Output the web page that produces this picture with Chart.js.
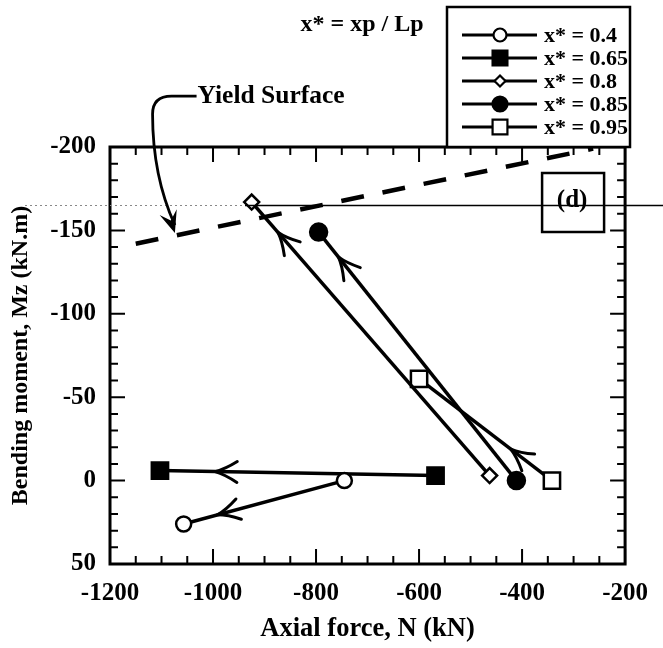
<!DOCTYPE html>
<html>
<head>
<meta charset="utf-8">
<script src="https://cdn.jsdelivr.net/npm/chart.js@4.4.1/dist/chart.umd.min.js"></script>
<style>
html,body{margin:0;padding:0;background:#fff;}
canvas{display:block;}
</style>
</head>
<body>
<canvas id="c" width="663" height="648"></canvas>
<script>
// ---- data ----
const seriesLabels = ['x* = 0.4', 'x* = 0.65', 'x* = 0.8', 'x* = 0.85', 'x* = 0.95'];
const axial04  = [-745, -1057];  const moment04  = [0, 26];
const axial065 = [-568, -1103];  const moment065 = [-3, -6];
const axial08  = [-463, -925];   const moment08  = [-3, -167];
const axial085 = [-411, -795];   const moment085 = [0, -149];
const axial095 = [-342, -600];   const moment095 = [0, -61];
const yieldAxial  = [-1150, -262];
const yieldMoment = [-142, -199];
const arrowFraction = [0.79, 0.80, 0.89, 0.90, 0.31];
const xTickLabels = [-1200, -1000, -800, -600, -400, -200];
const yTickLabels = [-200, -150, -100, -50, 0, 50];
// yield-surface annotation anchors (data coordinates)
const yieldNoteText = 'Yield Surface';
const yieldNoteText0 = [-1030, -230.5];
const yieldNoteTip = [-1074, -148.4];

const FONT = "'Liberation Serif', 'Times New Roman', serif";
const pts = (xs, ys) => xs.map((x, i) => ({x: x, y: ys[i]}));

const markerStyles = [
  {style: 'circle',  r: 7.5,  lr: 6.5,  fill: '#fff'},
  {style: 'rect',    r: 11.5, lr: 10.5, fill: '#000'},
  {style: 'rectRot', r: 7.5,  lr: 5.5,  fill: '#fff'},
  {style: 'circle',  r: 8.5,  lr: 7.5,  fill: '#000'},
  {style: 'rect',    r: 11.5, lr: 10.5, fill: '#fff'}
];

const seriesData = [
  pts(axial04, moment04), pts(axial065, moment065), pts(axial08, moment08),
  pts(axial085, moment085), pts(axial095, moment095)
];

const datasets = seriesData.map((d, i) => ({
  label: seriesLabels[i],
  data: d,
  showLine: true,
  borderColor: '#000',
  borderWidth: 3.5,
  pointStyle: markerStyles[i].style,
  pointRadius: markerStyles[i].r,
  pointBackgroundColor: markerStyles[i].fill,
  pointBorderColor: '#000',
  pointBorderWidth: 2.5,
  order: 1
}));
datasets.push({
  label: 'Yield Surface',
  data: pts(yieldAxial, yieldMoment),
  showLine: true,
  borderColor: '#000',
  borderWidth: 4.5,
  borderDash: [23, 19],
  borderCapStyle: 'butt',
  pointRadius: 0,
  order: 2
});

function arrowChevron(ctx, tx, ty, ux, uy, len, half) {
  const bx = tx - ux * len, by = ty - uy * len;
  ctx.beginPath();
  ctx.moveTo(bx - uy * half, by + ux * half);
  ctx.quadraticCurveTo(tx - ux * len * 0.45 - uy * half * 0.25, ty - uy * len * 0.45 + ux * half * 0.25, tx, ty);
  ctx.quadraticCurveTo(tx - ux * len * 0.45 + uy * half * 0.25, ty - uy * len * 0.45 - ux * half * 0.25, bx + uy * half, by - ux * half);
  ctx.stroke();
}

const deco = {
  id: 'deco',
  afterDatasetsDraw(chart) {
    const ctx = chart.ctx, xs = chart.scales.x, ys = chart.scales.y;
    ctx.save();
    ctx.strokeStyle = '#000';
    ctx.lineWidth = 3;
    ctx.lineCap = 'round';
    seriesData.forEach((d, i) => {
      const x0 = xs.getPixelForValue(d[0].x), y0 = ys.getPixelForValue(d[0].y);
      const x1 = xs.getPixelForValue(d[1].x), y1 = ys.getPixelForValue(d[1].y);
      const f = arrowFraction[i];
      const tx = x0 + (x1 - x0) * f, ty = y0 + (y1 - y0) * f;
      const L = Math.hypot(x1 - x0, y1 - y0);
      arrowChevron(ctx, tx, ty, (x1 - x0) / L, (y1 - y0) / L, 22, 10.5);
    });
    ctx.restore();
  },
  afterDraw(chart) {
    const ctx = chart.ctx, a = chart.chartArea, xs = chart.scales.x, ys = chart.scales.y;
    ctx.save();
    ctx.strokeStyle = '#000';
    ctx.fillStyle = '#000';
    // frame
    ctx.lineWidth = 3;
    ctx.strokeRect(a.left, a.top, a.right - a.left, a.bottom - a.top);
    // inward ticks
    ctx.lineWidth = 2;
    ctx.beginPath();
    for (let v = -1200; v <= -200; v += 50) {
      const px = xs.getPixelForValue(v);
      const L = (v % 200 === 0) ? 15 : 8;
      ctx.moveTo(px, a.bottom); ctx.lineTo(px, a.bottom - L);
      ctx.moveTo(px, a.top); ctx.lineTo(px, a.top + L);
    }
    for (let v = -200; v <= 50; v += 10) {
      const py = ys.getPixelForValue(v);
      const L = (v % 50 === 0) ? 15 : 8;
      ctx.moveTo(a.left, py); ctx.lineTo(a.left + L, py);
      ctx.moveTo(a.right, py); ctx.lineTo(a.right - L, py);
    }
    ctx.stroke();

    // thin horizontal scan line
    ctx.lineWidth = 1.3;
    ctx.beginPath();
    ctx.moveTo(245, a.top + 58.5); ctx.lineTo(663, a.top + 58.5);
    ctx.stroke();
    ctx.strokeStyle = '#888';
    ctx.lineWidth = 1;
    ctx.setLineDash([2, 3]);
    ctx.beginPath();
    ctx.moveTo(25, a.top + 58.5); ctx.lineTo(245, a.top + 58.5);
    ctx.stroke();
    ctx.setLineDash([]);
    ctx.strokeStyle = '#000';

    // (d) box
    ctx.fillStyle = '#fff';
    ctx.fillRect(a.right - 83, a.top + 26, 62, 59);
    ctx.beginPath();
    ctx.moveTo(a.right - 83, a.top + 58.5); ctx.lineTo(a.right - 21, a.top + 58.5);
    ctx.lineWidth = 1.3; ctx.stroke();
    ctx.lineWidth = 2.5;
    ctx.strokeRect(a.right - 83, a.top + 26, 62, 59);
    ctx.fillStyle = '#000';
    ctx.font = 'bold 25px ' + FONT;
    ctx.textAlign = 'center';
    ctx.textBaseline = 'middle';
    ctx.fillText('(d)', a.right - 53, a.top + 54);

    // legend box
    const lx = 447, ly = 7, lw = 183, lh = a.top - 7;
    ctx.fillStyle = '#fff';
    ctx.fillRect(lx, ly, lw, lh);
    ctx.lineWidth = 2.5;
    ctx.strokeRect(lx, ly, lw, lh);
    ctx.font = 'bold 22px ' + FONT;
    ctx.textAlign = 'left';
    seriesLabels.forEach((lab, i) => {
      const ry = 35 + i * 23;
      ctx.strokeStyle = '#000';
      ctx.lineWidth = 3;
      ctx.beginPath(); ctx.moveTo(462, ry); ctx.lineTo(537, ry); ctx.stroke();
      const m = markerStyles[i];
      ctx.fillStyle = m.fill;
      ctx.lineWidth = 2.2;
      Chart.helpers.drawPoint(ctx, {pointStyle: m.style, radius: m.lr, borderWidth: 2.2, rotation: 0}, 500, ry);
      ctx.fillStyle = '#000';
      ctx.fillText(lab, 544, ry + 1);
    });

    // x* definition
    ctx.font = 'bold 24px ' + FONT;
    ctx.textAlign = 'center';
    ctx.fillText('x* = xp / Lp', 362, 25);

    // yield surface note
    const p = (d) => [xs.getPixelForValue(d[0]), ys.getPixelForValue(d[1])];
    const t0 = p(yieldNoteText0), tip = p(yieldNoteTip);
    ctx.font = 'bold 25.5px ' + FONT;
    ctx.textAlign = 'left';
    ctx.fillText(yieldNoteText, t0[0], t0[1]);
    ctx.lineWidth = 2.8;
    ctx.beginPath();
    ctx.moveTo(t0[0] - 1, t0[1]);
    ctx.lineTo(t0[0] - 26, t0[1]);
    ctx.quadraticCurveTo(t0[0] - 45, t0[1], t0[0] - 45, t0[1] + 18);
    ctx.bezierCurveTo(t0[0] - 45, t0[1] + 70, tip[0] - 10, tip[1] - 30, tip[0], tip[1] - 8);
    ctx.stroke();
    // filled arrow head
    const dx = 9, dy = 28, dl = Math.hypot(dx, dy), ux = dx / dl, uy = dy / dl;
    const len = 22, half = 9;
    const bx = tip[0] - ux * len, by = tip[1] - uy * len;
    ctx.beginPath();
    ctx.moveTo(tip[0], tip[1]);
    ctx.lineTo(bx - uy * half, by + ux * half);
    ctx.lineTo(tip[0] - ux * len * 0.6, tip[1] - uy * len * 0.6);
    ctx.lineTo(bx + uy * half, by - ux * half);
    ctx.closePath();
    ctx.fill();
    ctx.restore();
  }
};

new Chart(document.getElementById('c'), {
  type: 'scatter',
  data: {datasets: datasets},
  options: {
    responsive: false,
    animation: false,
    devicePixelRatio: 1,
    layout: {padding: {top: 147, right: 30, bottom: 0, left: 0}},
    plugins: {legend: {display: false}, tooltip: {enabled: false}},
    scales: {
      x: {
        type: 'linear', position: 'bottom', min: -1200, max: -200,
        afterBuildTicks: s => { s.ticks = xTickLabels.map(v => ({value: v})); },
        afterFit: s => { s.height = 84; },
        grid: {display: false, drawTicks: false},
        border: {display: false},
        ticks: {padding: 15, color: '#000', font: {family: FONT, size: 25, weight: 'bold'},
                callback: v => String(v), maxRotation: 0, autoSkip: false},
        title: {display: true, text: 'Axial force, N (kN)', color: '#000',
                font: {family: FONT, size: 26.5, weight: 'bold'}, padding: {top: 0, bottom: 3}}
      },
      y: {
        type: 'linear', position: 'left', min: -200, max: 50, reverse: true,
        afterBuildTicks: s => { s.ticks = yTickLabels.map(v => ({value: v})); },
        afterFit: s => { s.width = 110; },
        grid: {display: false, drawTicks: false},
        border: {display: false},
        ticks: {padding: 14, color: '#000', font: {family: FONT, size: 25, weight: 'bold'},
                callback: v => String(v), autoSkip: false},
        title: {display: true, text: 'Bending moment, Mz (kN.m)', color: '#000',
                font: {family: FONT, size: 24, weight: 'bold'}, padding: {top: 6, bottom: 0}}
      }
    }
  },
  plugins: [deco]
});
</script>
</body>
</html>
